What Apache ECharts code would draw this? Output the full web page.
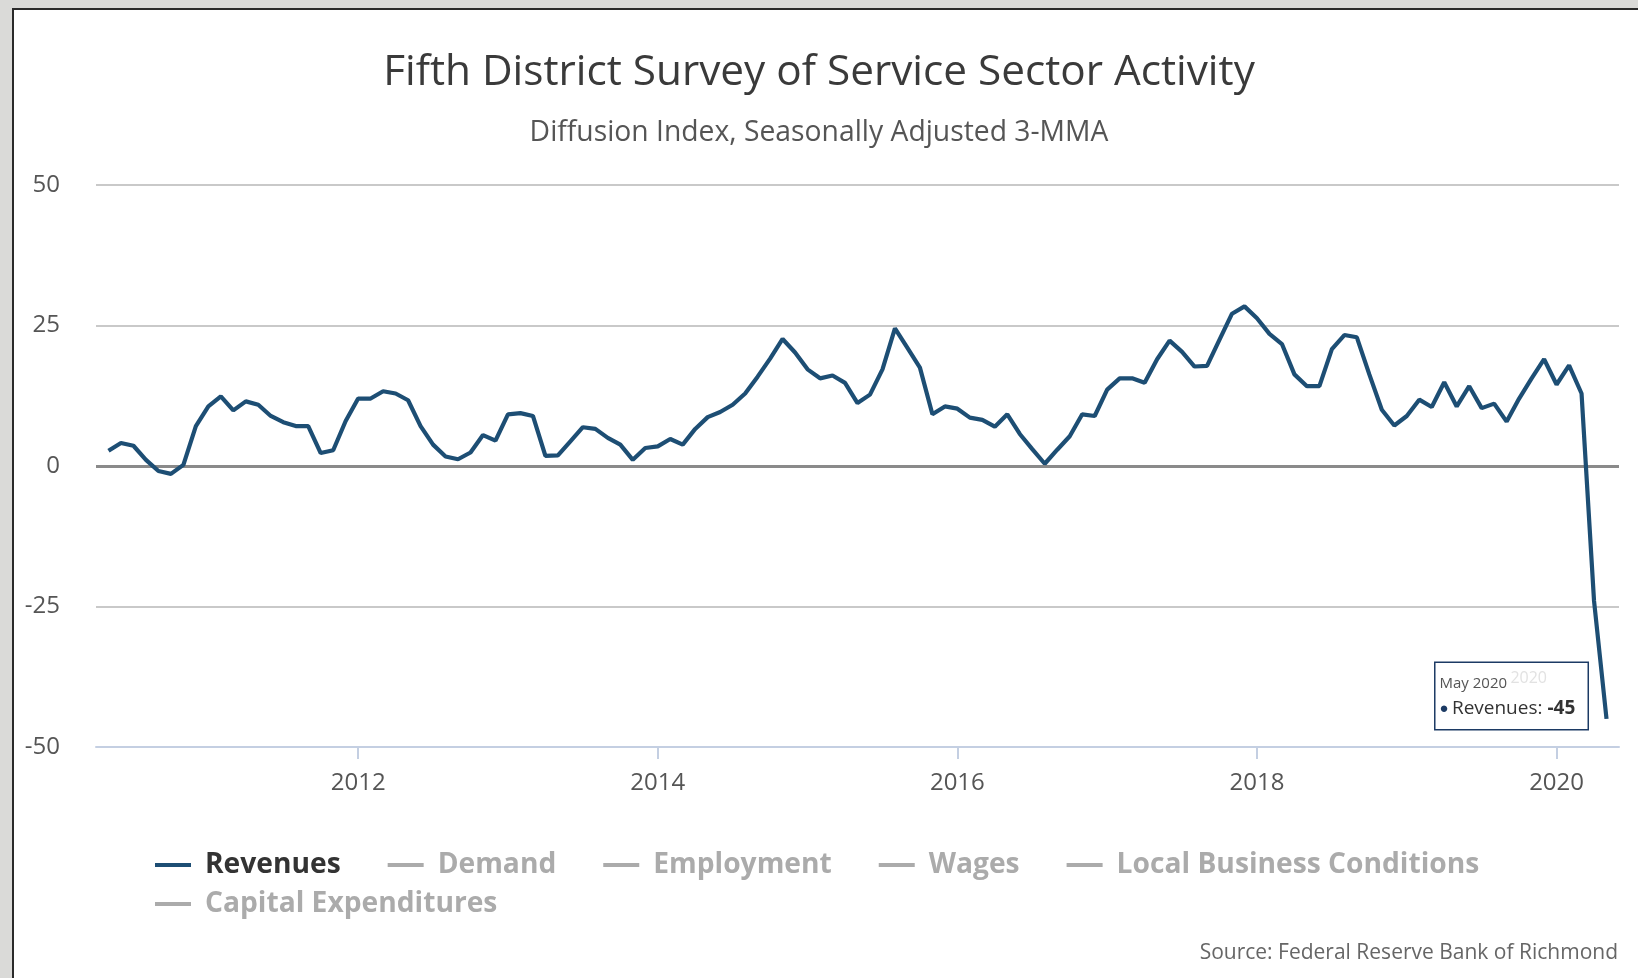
<!DOCTYPE html>
<html>
<head>
<meta charset="utf-8">
<script src="https://cdn.jsdelivr.net/npm/echarts@6/dist/echarts.min.js"></script>
<style>
html,body{margin:0;padding:0;width:1638px;height:978px;overflow:hidden;background:#dadad8;}
#panel{position:absolute;left:12px;top:8px;right:0;bottom:0;background:#ffffff;border-left:2px solid #2a2a2a;border-top:2px solid #2a2a2a;}
#chart{position:absolute;left:0;top:0;width:1638px;height:978px;}
</style>
</head>
<body>
<div id="panel"></div>
<div id="chart"></div>
<script>
// ---- Data ----
const months = [
  '2010-05','2010-06','2010-07','2010-08','2010-09','2010-10','2010-11','2010-12',
  '2011-01','2011-02','2011-03','2011-04','2011-05','2011-06','2011-07','2011-08','2011-09','2011-10','2011-11','2011-12',
  '2012-01','2012-02','2012-03','2012-04','2012-05','2012-06','2012-07','2012-08','2012-09','2012-10','2012-11','2012-12',
  '2013-01','2013-02','2013-03','2013-04','2013-05','2013-06','2013-07','2013-08','2013-09','2013-10','2013-11','2013-12',
  '2014-01','2014-02','2014-03','2014-04','2014-05','2014-06','2014-07','2014-08','2014-09','2014-10','2014-11','2014-12',
  '2015-01','2015-02','2015-03','2015-04','2015-05','2015-06','2015-07','2015-08','2015-09','2015-10','2015-11','2015-12',
  '2016-01','2016-02','2016-03','2016-04','2016-05','2016-06','2016-07','2016-08','2016-09','2016-10','2016-11','2016-12',
  '2017-01','2017-02','2017-03','2017-04','2017-05','2017-06','2017-07','2017-08','2017-09','2017-10','2017-11','2017-12',
  '2018-01','2018-02','2018-03','2018-04','2018-05','2018-06','2018-07','2018-08','2018-09','2018-10','2018-11','2018-12',
  '2019-01','2019-02','2019-03','2019-04','2019-05','2019-06','2019-07','2019-08','2019-09','2019-10','2019-11','2019-12',
  '2020-01','2020-02','2020-03','2020-04','2020-05'
];
const revenues = [
  2.7, 4.1, 3.6, 1.1, -0.9, -1.4, 0.2, 7.1,
  10.6, 12.4, 9.9, 11.5, 10.9, 8.9, 7.8, 7.1, 7.1, 2.3, 2.8, 8.0,
  12.0, 12.0, 13.3, 12.9, 11.7, 7.1, 3.8, 1.7, 1.2, 2.4, 5.5, 4.5,
  9.2, 9.4, 8.9, 1.8, 1.9, 4.4, 6.9, 6.6, 5.0, 3.8, 1.1, 3.2,
  3.5, 4.8, 3.8, 6.6, 8.7, 9.6, 10.9, 12.9, 15.9, 19.1, 22.6, 20.2,
  17.2, 15.6, 16.1, 14.8, 11.2, 12.7, 17.2, 24.5, 21.0, 17.5, 9.2, 10.6,
  10.2, 8.6, 8.2, 7.0, 9.2, 5.7, 3.0, 0.4, 2.9, 5.3, 9.2, 8.9,
  13.6, 15.6, 15.6, 14.8, 19.0, 22.3, 20.3, 17.7, 17.8, 22.5, 27.1, 28.4,
  26.3, 23.5, 21.7, 16.3, 14.2, 14.2, 20.8, 23.3, 22.9, 16.3, 10.0, 7.2,
  8.9, 11.8, 10.5, 14.9, 10.6, 14.2, 10.3, 11.1, 7.9, 12.0, 15.6, 19.0,
  14.5, 17.9, 12.9, -24, -45
];
const otherSeries = ['Demand', 'Employment', 'Wages', 'Local Business Conditions', 'Capital Expenditures'];
const xTickYears = [2012, 2014, 2016, 2018, 2020];
const yTicks = { min: -50, max: 50, step: 25 };
const xRange = { min: '2010-04', max: '2020-06' };
const monthNames = ['Jan','Feb','Mar','Apr','May','Jun','Jul','Aug','Sep','Oct','Nov','Dec'];

// ---- helpers ----
function toYear(s) { const [y, m] = s.split('-').map(Number); return y + (m - 1) / 12; }
function monthLabel(s) { const [y, m] = s.split('-').map(Number); return monthNames[m - 1] + ' ' + y; }

const FONT = '"Open Sans", "Noto Sans", sans-serif';
const NAVY = '#1d4e74';
const lastIdx = revenues.length - 1;

const revData = revenues.map((v, i) => [toYear(months[i]), v]);

// hover-style tooltip box anchored on the last data point
const tipMonth = months[lastIdx];
const tipValue = revenues[lastIdx];
const tipPoint = {
  coord: [toYear(tipMonth), tipValue],
  symbol: 'circle',
  symbolSize: 0,
  itemStyle: { color: 'transparent' },
  label: {
    show: true,
    position: 'left',
    distance: 19,
    offset: [-152, -23],
    backgroundColor: '#ffffff',
    borderColor: '#1c3a64',
    borderWidth: 1.5,
    padding: [8, 6, 8, 4],
    width: 142,
    align: 'left',
    formatter: '{a|' + monthLabel(tipMonth) + '} {g|' + tipMonth.split('-')[0] + '}\n{d|\u25CF} {b|Revenues: }{c|' + tipValue + '}',
    rich: {
      a: { fontFamily: FONT, fontSize: 15, color: '#555555', lineHeight: 26 },
      g: { fontFamily: FONT, fontSize: 16, color: '#e2e2e2', lineHeight: 26, verticalAlign: 'top', padding: [0, 0, 6, 0] },
      d: { fontFamily: FONT, fontSize: 15, color: '#1c3a64', lineHeight: 24 },
      b: { fontFamily: FONT, fontSize: 19, color: '#333333', lineHeight: 24 },
      c: { fontFamily: FONT, fontSize: 19, color: '#333333', fontWeight: 'bold', lineHeight: 24 }
    }
  }
};

const legendSelected = {};
otherSeries.forEach(n => legendSelected[n] = false);

const legendCommon = {
  orient: 'horizontal',
  left: 155,
  padding: 0,
  itemGap: 47,
  itemWidth: 36,
  itemHeight: 4,
  icon: 'rect',
  inactiveColor: '#ababab',
  selected: legendSelected,
  textStyle: { fontFamily: FONT, fontSize: 28.2, fontWeight: 'bold', color: '#333333', padding: [0, 0, 0, 9], lineHeight: 30 }
};

const option = {
  animation: false,
  backgroundColor: 'transparent',
  title: [
    { text: 'Fifth District Survey of Service Sector Activity', left: 'center', top: 51, padding: 0,
      textStyle: { fontFamily: FONT, fontSize: 42.3, fontWeight: 'normal', color: '#3a3a3a', lineHeight: 44 } },
    { text: 'Diffusion Index, Seasonally Adjusted 3-MMA', left: 'center', top: 118, padding: 0,
      textStyle: { fontFamily: FONT, fontSize: 28.3, fontWeight: 'normal', color: '#555555', lineHeight: 30 } },
    { text: 'Source: Federal Reserve Bank of Richmond', right: 20, top: 941, padding: 0,
      textStyle: { fontFamily: FONT, fontSize: 21, fontWeight: 'normal', color: '#666666', lineHeight: 24 } }
  ],
  legend: [
    Object.assign({}, legendCommon, { top: 850, data: ['Revenues', 'Demand', 'Employment', 'Wages', 'Local Business Conditions'] }),
    Object.assign({}, legendCommon, { top: 889, data: ['Capital Expenditures'] })
  ],
  grid: { left: 96, right: 19, top: 185, bottom: 231, containLabel: false },
  xAxis: {
    type: 'value',
    min: toYear(xRange.min),
    max: toYear(xRange.max),
    axisLine: { show: true, onZero: false, lineStyle: { color: '#c4cfe2', width: 2 } },
    axisTick: { show: true, customValues: xTickYears, length: 12, lineStyle: { color: '#c4cfe2', width: 2 } },
    axisLabel: { customValues: xTickYears, formatter: v => String(Math.round(v)), fontFamily: FONT, fontSize: 24, color: '#555555', margin: 24 },
    splitLine: { show: false }
  },
  yAxis: {
    type: 'value',
    min: yTicks.min,
    max: yTicks.max,
    interval: yTicks.step,
    axisLine: { show: false },
    axisTick: { show: false },
    axisLabel: { fontFamily: FONT, fontSize: 24, color: '#555555', margin: 36 },
    splitLine: { show: true, lineStyle: { color: '#c9c9c9', width: 2 } }
  },
  series: [
    {
      name: 'Revenues',
      type: 'line',
      data: revData,
      color: NAVY,
      showSymbol: false,
      symbol: 'none',
      lineStyle: { color: NAVY, width: 4.2 },
      z: 5,
      markLine: {
        silent: true,
        symbol: ['none', 'none'],
        label: { show: false },
        lineStyle: { color: '#8a8a8a', width: 3, type: 'solid' },
        data: [{ yAxis: 0 }]
      },
      markPoint: {
        silent: true,
        data: [tipPoint]
      }
    }
  ].concat(otherSeries.map(n => ({ name: n, type: 'line', data: [], color: '#ababab', symbol: 'none' })))
};

const chart = echarts.init(document.getElementById('chart'), null, { renderer: 'canvas' });
chart.setOption(option);
</script>
</body>
</html>
